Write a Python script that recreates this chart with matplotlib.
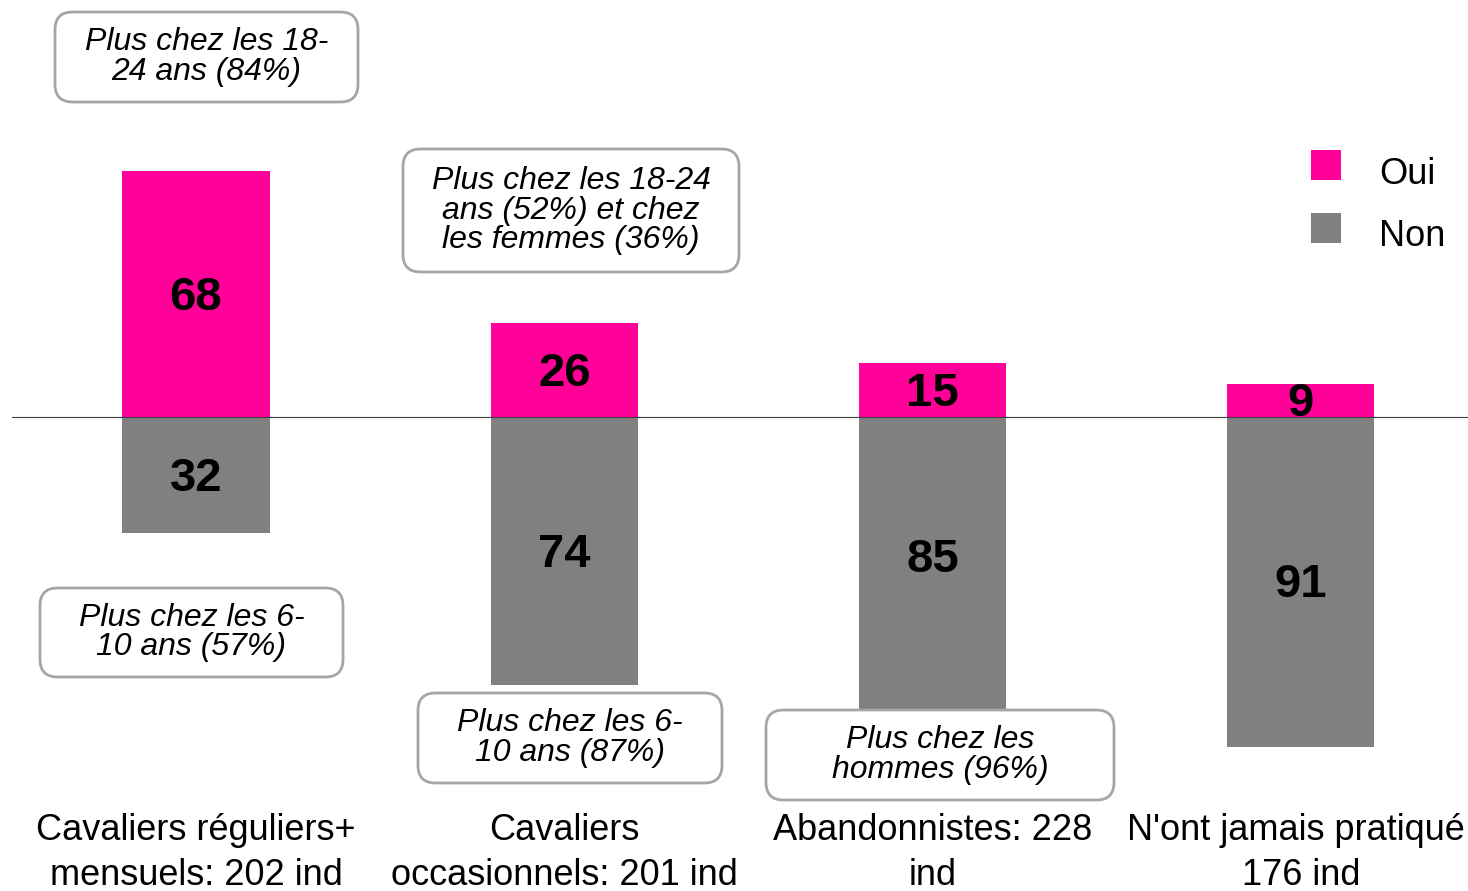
import matplotlib
matplotlib.use("Agg")
import matplotlib.pyplot as plt
from matplotlib.patches import FancyBboxPatch

# ---------------------------------------------------------------------------
# Data
# ---------------------------------------------------------------------------
categories = [
    "Cavaliers réguliers+\nmensuels: 202 ind",
    "Cavaliers\noccasionnels: 201 ind",
    "Abandonnistes: 228\nind",
    "N'ont jamais pratiqué:\n176 ind",
]
oui = [68, 26, 15, 9]
non = [32, 74, 85, 91]

notes = [
    "Plus chez les 18-\n24 ans (84%)",
    "Plus chez les 18-24\nans (52%) et chez\nles femmes (36%)",
    "Plus chez les 6-\n10 ans (57%)",
    "Plus chez les 6-\n10 ans (87%)",
    "Plus chez les\nhommes (96%)",
]
# box extents in pixels: left, top, right, bottom
note_boxes = [
    (55, 12, 358, 102),
    (403, 149, 739, 272),
    (40, 588, 343, 677),
    (418, 693, 722, 783),
    (766, 710, 1114, 800),
]

PINK = "#FF0099"
GREY = "#808080"
W, H = 1468, 891

plt.rcParams["font.family"] = ["Liberation Sans", "DejaVu Sans"]

fig = plt.figure(figsize=(W / 100, H / 100), dpi=100)
fig.patch.set_facecolor("white")
ax = fig.add_axes([12 / W, 0, 1 - 12 / W, 1])
ax.set_xlim(-0.5, 3.454)
ax.set_ylim(-130.9, 115.2)
ax.axis("off")

x = range(len(categories))
ax.bar(x, oui, width=0.40, color=PINK, label="Oui", zorder=2)
ax.bar(x, [-v for v in non], width=0.40, color=GREY, label="Non", zorder=2)
ax.axhline(0, color="#404040", linewidth=0.8, zorder=3)

for i in x:
    ax.text(i, oui[i] / 2 - 1.0, str(oui[i]), ha="center", va="center",
            fontsize=34, fontweight="bold", color="black", zorder=4)
    ny = -non[i] / 2
    if i == 2:
        ny = -(non[i] - 8) / 2
    ax.text(i, ny - 1.0, str(non[i]), ha="center", va="center",
            fontsize=34, fontweight="bold", color="black", zorder=4)
    # the last label runs past the right edge, as in the source
    ax.text(i, -120.5, categories[i], ha="center", va="center",
            fontsize=26, color="black", linespacing=1.38, zorder=4,
            clip_on=False)

# annotation boxes (figure pixel space)
for (l, t, r, b), txt in zip(note_boxes, notes):
    fig.patches.append(FancyBboxPatch(
        (l / W, 1 - b / H), (r - l) / W, (b - t) / H,
        boxstyle="round,pad=0,rounding_size=0.012",
        transform=fig.transFigure, facecolor="white",
        edgecolor="#A6A6A6", linewidth=2, zorder=5,
        mutation_aspect=W / H,
    ))
    fig.text((l + r) / 2 / W, 1 - (t + b) / 2 / H, txt,
             ha="center", va="center", fontsize=23, style="italic",
             linespacing=0.98, zorder=6)

# legend
for y0, col, lab in [(150, PINK, "Oui"), (213, GREY, "Non")]:
    fig.patches.append(plt.Rectangle(
        (1311 / W, 1 - (y0 + 30) / H), 30 / W, 30 / H,
        transform=fig.transFigure, facecolor=col, edgecolor="none"))
    fig.text(1379 / W, 1 - (y0 + 24) / H, lab, ha="left", va="center",
             fontsize=26)

fig.savefig("out.png", dpi=100)
